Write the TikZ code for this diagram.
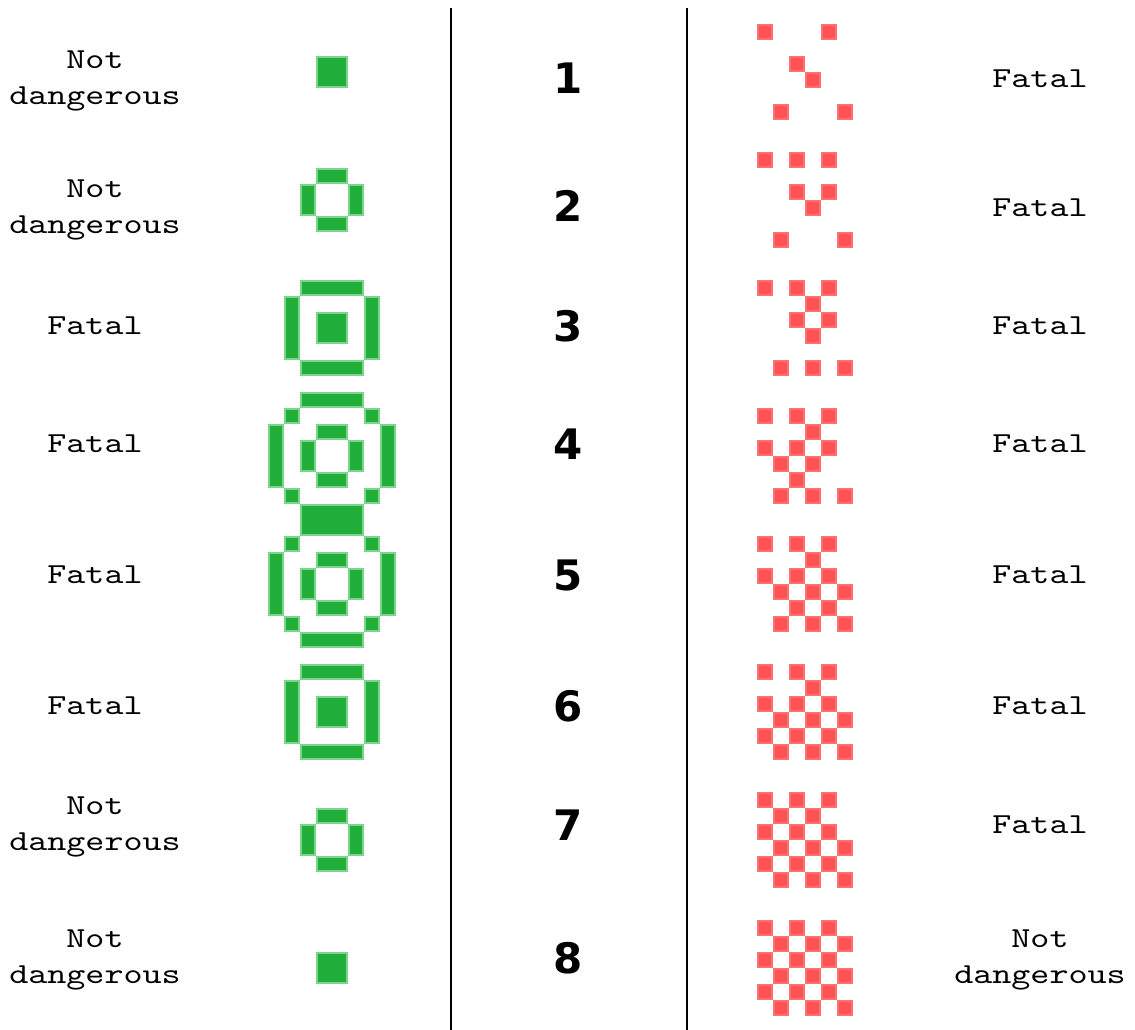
\documentclass[tikz,border=0pt]{standalone}
\usepackage{fontspec}
\newfontfamily\monof[FakeStretch=1.25]{lmmono10-regular.otf}
\newfontfamily\numf{DejaVu Sans}
\definecolor{gfill}{RGB}{34,174,59}
\definecolor{gline}{RGB}{125,212,140}
\definecolor{rfill}{RGB}{255,82,82}
\definecolor{rline}{RGB}{255,112,112}
\tikzset{
  lbl/.style={font=\monof\fontsize{29}{36}\selectfont, align=center, text=black, inner sep=0pt},
  num/.style={font=\numf\bfseries\fontsize{42}{42}\selectfont, text=black, inner sep=0pt},
  gcell/.style={fill=gfill, draw=gline, line width=2pt},
  rcell/.style={fill=rfill, draw=rline, line width=2pt},
  divider/.style={draw=black, line width=2pt}
}
\newcommand{\gbox}[4]{\filldraw[gcell] (#1+1,#2+1) rectangle (#3-1,#4-1);}
\begin{document}
\begin{tikzpicture}[x=1pt,y=-1pt]
\useasboundingbox (0,0) rectangle (1135,1030);
% dividers
\coordinate (d1t) at (451,8);
\coordinate (d1b) at (451,1030);
\coordinate (d2t) at (687,8);
\coordinate (d2b) at (687,1030);
\draw[divider] (d1t) -- (d1b);
\draw[divider] (d2t) -- (d2b);
% left labels
\node[lbl] (l1) at (95,81) {Not\\dangerous};
\node[lbl] (l2) at (95,210) {Not\\dangerous};
\node[lbl] (l3) at (95,326) {Fatal};
\node[lbl] (l4) at (95,444) {Fatal};
\node[lbl] (l5) at (95,575) {Fatal};
\node[lbl] (l6) at (95,706) {Fatal};
\node[lbl] (l7) at (95,827) {Not\\dangerous};
\node[lbl] (l8) at (95,960) {Not\\dangerous};
% numbers
\node[num] (n1) at (568,78) {1};
\node[num] (n2) at (568,206) {2};
\node[num] (n3) at (568,326) {3};
\node[num] (n4) at (568,444) {4};
\node[num] (n5) at (568,575) {5};
\node[num] (n6) at (568,706) {6};
\node[num] (n7) at (568,825) {7};
\node[num] (n8) at (568,958) {8};
% right labels
\node[lbl] (r1) at (1040,79) {Fatal};
\node[lbl] (r2) at (1040,208) {Fatal};
\node[lbl] (r3) at (1040,326) {Fatal};
\node[lbl] (r4) at (1040,444) {Fatal};
\node[lbl] (r5) at (1040,575) {Fatal};
\node[lbl] (r6) at (1040,706) {Fatal};
\node[lbl] (r7) at (1040,825) {Fatal};
\node[lbl] (r8) at (1040,960) {Not\\dangerous};
% green patterns
\gbox{316}{56}{348}{88}
\gbox{316}{168}{348}{184}\gbox{300}{184}{316}{216}\gbox{348}{184}{364}{216}\gbox{316}{216}{348}{232}
\gbox{300}{280}{364}{296}\gbox{284}{296}{300}{360}\gbox{364}{296}{380}{360}\gbox{316}{312}{348}{344}\gbox{300}{360}{364}{376}
\gbox{300}{392}{364}{408}\gbox{284}{408}{300}{424}\gbox{364}{408}{380}{424}
\gbox{268}{424}{284}{488}\gbox{380}{424}{396}{488}
\gbox{316}{424}{348}{440}\gbox{300}{440}{316}{472}\gbox{348}{440}{364}{472}\gbox{316}{472}{348}{488}
\gbox{284}{488}{300}{504}\gbox{364}{488}{380}{504}
\gbox{300}{504}{364}{536}
\gbox{284}{536}{300}{552}\gbox{364}{536}{380}{552}
\gbox{268}{552}{284}{616}\gbox{380}{552}{396}{616}
\gbox{316}{552}{348}{568}\gbox{300}{568}{316}{600}\gbox{348}{568}{364}{600}\gbox{316}{600}{348}{616}
\gbox{284}{616}{300}{632}\gbox{364}{616}{380}{632}
\gbox{300}{632}{364}{648}
\gbox{300}{664}{364}{680}\gbox{284}{680}{300}{744}\gbox{364}{680}{380}{744}\gbox{316}{696}{348}{728}\gbox{300}{744}{364}{760}
\gbox{316}{808}{348}{824}\gbox{300}{824}{316}{856}\gbox{348}{824}{364}{856}\gbox{316}{856}{348}{872}
\gbox{316}{952}{348}{984}
% red patterns: k/row/col
\foreach \k/\r/\c in {
 1/0/0,1/0/4,1/2/2,1/3/3,1/5/1,1/5/5,
 2/0/0,2/0/2,2/0/4,2/2/2,2/2/4,2/3/3,2/5/1,2/5/5,
 3/0/0,3/0/2,3/0/4,3/1/3,3/2/2,3/2/4,3/3/3,3/5/1,3/5/3,3/5/5,
 4/0/0,4/0/2,4/0/4,4/1/3,4/2/0,4/2/2,4/2/4,4/3/1,4/3/3,4/4/2,4/5/1,4/5/3,4/5/5,
 5/0/0,5/0/2,5/0/4,5/1/3,5/2/0,5/2/2,5/2/4,5/3/1,5/3/3,5/3/5,5/4/2,5/4/4,5/5/1,5/5/3,5/5/5,
 6/0/0,6/0/2,6/0/4,6/1/3,6/2/0,6/2/2,6/2/4,6/3/1,6/3/3,6/3/5,6/4/0,6/4/2,6/4/4,6/5/1,6/5/3,6/5/5,
 7/0/0,7/0/2,7/0/4,7/1/1,7/1/3,7/2/0,7/2/2,7/2/4,7/3/1,7/3/3,7/3/5,7/4/0,7/4/2,7/4/4,7/5/1,7/5/3,7/5/5,
 8/0/0,8/0/2,8/0/4,8/1/1,8/1/3,8/1/5,8/2/0,8/2/2,8/2/4,8/3/1,8/3/3,8/3/5,8/4/0,8/4/2,8/4/4,8/5/1,8/5/3,8/5/5}
{
  \pgfmathsetmacro{\xx}{757+16*\c}
  \pgfmathsetmacro{\yy}{24+128*(\k-1)+16*\r}
  \filldraw[rcell] (\xx+1,\yy+1) rectangle (\xx+15,\yy+15);
}
\end{tikzpicture}
\end{document}
